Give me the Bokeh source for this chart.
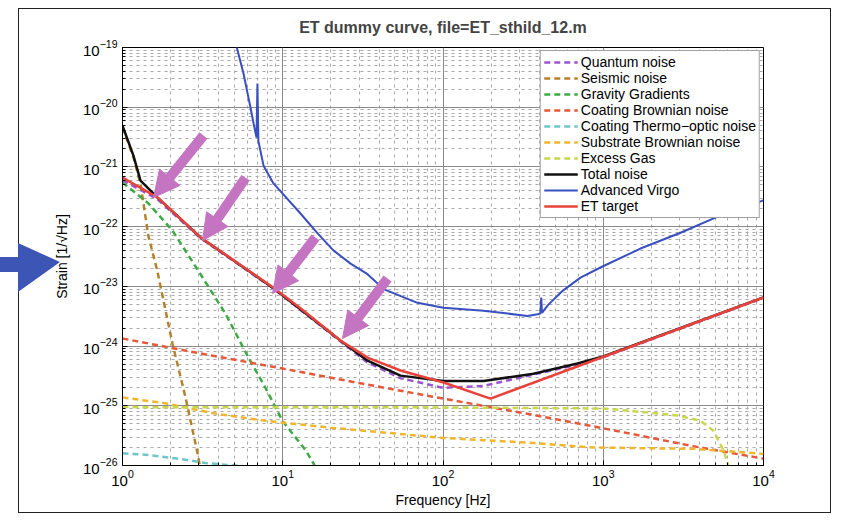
from bokeh.plotting import figure
from bokeh.models import FixedTicker, Range1d, Arrow, NormalHead, InlineStyleSheet
from bokeh.embed import file_html
from bokeh.resources import INLINE

# ---------------- data ----------------
f_quantum = [1, 1.65, 3.07, 8.75, 22.9, 33.8, 54.3, 100, 179, 292, 690, 1000, 10000]
h_quantum = [6.0e-22, 2.9e-22, 6.4e-23, 9.2e-24, 1.2e-24, 5.3e-25, 2.9e-25, 2.0e-25,
             2.15e-25, 2.9e-25, 4.9e-25, 6.5e-25, 6.4e-24]

f_seismic = [1, 1.17, 1.295, 1.45, 1.65, 2.05, 2.47, 2.94, 3.3]
h_seismic = [4.6e-21, 1.45e-21, 5.2e-22, 7e-23, 1.8e-23, 1.1e-24, 1.4e-25, 1.6e-26, 3e-27]

f_gravity = [1, 1.45, 2.05, 2.98, 4.39, 6.11, 7.8, 9.96, 13.9, 15.6, 17]
h_gravity = [5.5e-22, 2.45e-22, 8.6e-23, 1.8e-23, 3.5e-24, 6.4e-25, 2.0e-25, 5.6e-26,
             1.8e-26, 1.07e-26, 6e-27]

f_coat_brown = [1, 3, 10, 30, 100, 350, 1000, 3650, 10000]
h_coat_brown = [1.34e-24, 7.6e-25, 4.2e-25, 2.4e-25, 1.32e-25, 7.2e-26, 4.2e-26,
                2.1e-26, 1.3e-26]

f_coat_thermo = [1, 1.45, 2.37, 3.3, 7, 20]
h_coat_thermo = [1.6e-26, 1.5e-26, 1.27e-26, 1.1e-26, 9.3e-27, 7e-27]

f_substrate = [1, 1.85, 3.8, 7.8, 19.9, 52, 100, 352, 869, 3656, 9180, 10000]
h_substrate = [1.38e-25, 1.1e-25, 7.4e-26, 5.6e-26, 4.3e-26, 3.4e-26, 2.9e-26, 2.4e-26,
               2.0e-26, 1.9e-26, 1.6e-26, 1.55e-26]

f_gas = [1, 100, 1000, 1413, 2905, 4045, 4875, 5625, 6030, 6300]
h_gas = [9.5e-26, 9.4e-26, 9.0e-26, 8.3e-26, 6.9e-26, 5.6e-26, 3.8e-26, 1.8e-26,
         1.0e-26, 6e-27]

f_total = [1, 1.17, 1.295, 1.65, 3.07, 8.75, 22.9, 33.8, 54.3, 100.7, 179, 367, 690,
           1000, 10000]
h_total = [4.9e-21, 1.55e-21, 5.9e-22, 3.1e-22, 6.6e-23, 9.3e-24, 1.24e-24, 5.7e-25,
           3.2e-25, 2.6e-25, 2.6e-25, 3.45e-25, 5.1e-25, 6.7e-25, 6.55e-24]

f_virgo = [4.86, 5.69, 6.29, 6.57, 6.86, 6.95, 7.05, 7.59, 8.75, 12.9, 16.5, 20.7, 26.5,
           33.8, 42.6, 55, 69.3, 100.7, 179, 337, 389, 405, 410, 415, 450, 560, 721,
           961, 1708, 3036, 5395, 10000]
h_virgo = [1.9e-19, 3.66e-20, 9.9e-21, 5.4e-21, 3.1e-21, 2.5e-20, 2.7e-21, 1.05e-21,
           5.3e-22, 1.66e-22, 7.7e-23, 4.0e-23, 2.4e-23, 1.6e-23, 9e-24, 6.8e-24,
           5.3e-24, 4.4e-24, 3.9e-24, 3.2e-24, 3.4e-24, 3.5e-24, 6.5e-24, 3.6e-24,
           4.8e-24, 8.5e-24, 1.4e-23, 2.07e-23, 4.3e-23, 7.9e-23, 1.54e-22, 2.75e-22]

f_target = [1, 1.65, 3.07, 8.75, 12.9, 22.9, 33.8, 54.3, 100.7, 198, 10000]
h_target = [6.6e-22, 3.1e-22, 6.6e-23, 9.5e-24, 4.3e-24, 1.24e-24, 6.4e-25, 3.9e-25,
            2.45e-25, 1.32e-25, 6.5e-24]

# highlight arrows (tail -> tip, data units)
arrow_tail_f = [3.2, 5.86, 16.0, 45.1]
arrow_tail_h = [3.36e-21, 6.6e-22, 6.6e-23, 1.35e-23]
arrow_tip_f = [1.56, 3.16, 8.63, 23.6]
arrow_tip_h = [3.07e-22, 5.85e-23, 7.6e-24, 1.34e-24]

x_ticks = [1, 10, 100, 1000, 10000]
y_ticks = [1e-26, 1e-25, 1e-24, 1e-23, 1e-22, 1e-21, 1e-20, 1e-19]

title_text = "ET dummy curve, file=ET_sthild_12.m"
x_label = "Frequency [Hz]"
y_label = "Strain [1/\u221aHz]"

FONT = "Liberation Sans"

# ---------------- figure ----------------
p = figure(width=836, height=514, x_axis_type="log", y_axis_type="log",
           x_range=Range1d(1, 1e4), y_range=Range1d(1e-26, 1e-19),
           output_backend="svg", toolbar_location=None,
           min_border_left=122, min_border_right=73, min_border_top=47,
           min_border_bottom=49)

p.title.text = title_text
p.title.text_font = FONT
p.title.text_font_size = "16px"
p.title.text_font_style = "bold"
p.title.align = "center"
p.title.offset = -12
p.title.standoff = 23

p.background_fill_color = "white"
p.border_fill_color = "white"
p.outline_line_color = "black"
p.outline_line_width = 1
p.outline_line_alpha = 1

minor_x = [m * d for d in x_ticks[:-1] for m in range(2, 10)]
minor_y = [m * d for d in y_ticks[:-1] for m in range(2, 10)]
p.xaxis.ticker = FixedTicker(ticks=x_ticks, minor_ticks=minor_x)
p.yaxis.ticker = FixedTicker(ticks=y_ticks, minor_ticks=minor_y)

for ax in (p.xaxis, p.yaxis):
    ax.major_tick_in = 5
    ax.major_tick_out = 0
    ax.minor_tick_in = 3
    ax.minor_tick_out = 0
    ax.axis_line_color = "black"
    ax.major_label_text_font = FONT
    ax.major_label_text_font_size = "15px"
    ax.major_label_text_color = "black"
    ax.axis_label_text_font = FONT
    ax.axis_label_text_font_size = "14px"
    ax.axis_label_text_font_style = "normal"
    ax.axis_label_text_color = "black"

p.xaxis.axis_label = x_label
p.yaxis.axis_label = y_label
p.xaxis.major_label_standoff = 4
p.yaxis.major_label_standoff = 5
p.xaxis.axis_label_standoff = 3
p.yaxis.axis_label_standoff = 10

for g in (p.xgrid, p.ygrid):
    g.grid_line_color = "#8a8a8a"
    g.grid_line_width = 1
    g.minor_grid_line_color = "#a8a8a8"
    g.minor_grid_line_dash = "3 4"
    g.minor_grid_line_width = 1

DASH = "6 4"
p.line(f_quantum, h_quantum, line_color="#9a55cf", line_width=2.5, line_dash=DASH,
       legend_label="Quantum noise")
p.line(f_seismic, h_seismic, line_color="#b5822c", line_width=2.5, line_dash=DASH,
       legend_label="Seismic noise")
p.line(f_gravity, h_gravity, line_color="#3daa45", line_width=2.5, line_dash=DASH,
       legend_label="Gravity Gradients")
p.line(f_coat_brown, h_coat_brown, line_color="#e5583c", line_width=2.5, line_dash=DASH,
       legend_label="Coating Brownian noise")
p.line(f_coat_thermo, h_coat_thermo, line_color="#6cc6c8", line_width=2.5, line_dash=DASH,
       legend_label="Coating Thermo\u2212optic noise")
p.line(f_substrate, h_substrate, line_color="#f0b62c", line_width=2.5, line_dash=DASH,
       legend_label="Substrate Brownian noise")
p.line(f_gas, h_gas, line_color="#c8d84a", line_width=2.5, line_dash=DASH,
       legend_label="Excess Gas")
p.line(f_total, h_total, line_color="#111111", line_width=2.5, legend_label="Total noise")
p.line(f_virgo, h_virgo, line_color="#3a4fc0", line_width=2, legend_label="Advanced Virgo")
p.line(f_target, h_target, line_color="#e8433a", line_width=2.5, legend_label="ET target")

lg = p.legend[0]
lg.location = "top_right"
lg.margin = 3
lg.padding = 3
lg.spacing = 0
lg.label_standoff = 3
lg.glyph_width = 34
lg.glyph_height = 16
lg.label_height = 16
lg.label_text_font = FONT
lg.label_text_font_size = "14px"
lg.label_text_color = "black"
lg.border_line_color = "#444444"
lg.border_line_width = 1
lg.background_fill_color = "white"
lg.background_fill_alpha = 1

MAG = "#c474c0"
for xs, ys, xe, ye in zip(arrow_tail_f, arrow_tail_h, arrow_tip_f, arrow_tip_h):
    p.add_layout(Arrow(end=NormalHead(size=26, fill_color=MAG, line_color=MAG),
                       x_start=xs, y_start=ys, x_end=xe, y_end=ye,
                       line_color=MAG, line_width=10))

# slide frame and blue pointer arrow: page decoration drawn with CSS
css = """
:host { position: relative; overflow: visible; }
:host::before {
  content: ""; position: absolute; left: 18px; top: 8px;
  width: 813px; height: 505px; box-sizing: border-box;
  border: 1.5px solid #222222; pointer-events: none; z-index: 5;
}
:host::after {
  content: ""; position: absolute; left: 0px; top: 243px;
  width: 60px; height: 49px; background: #3d55b5; pointer-events: none; z-index: 6;
  clip-path: polygon(0px 14px, 18px 14px, 18px 0px, 60px 19px, 18px 49px, 18px 29px, 0px 29px);
}
"""
p.stylesheets = [InlineStyleSheet(css=css)]

open("out.html", "w").write(file_html(p, INLINE))
